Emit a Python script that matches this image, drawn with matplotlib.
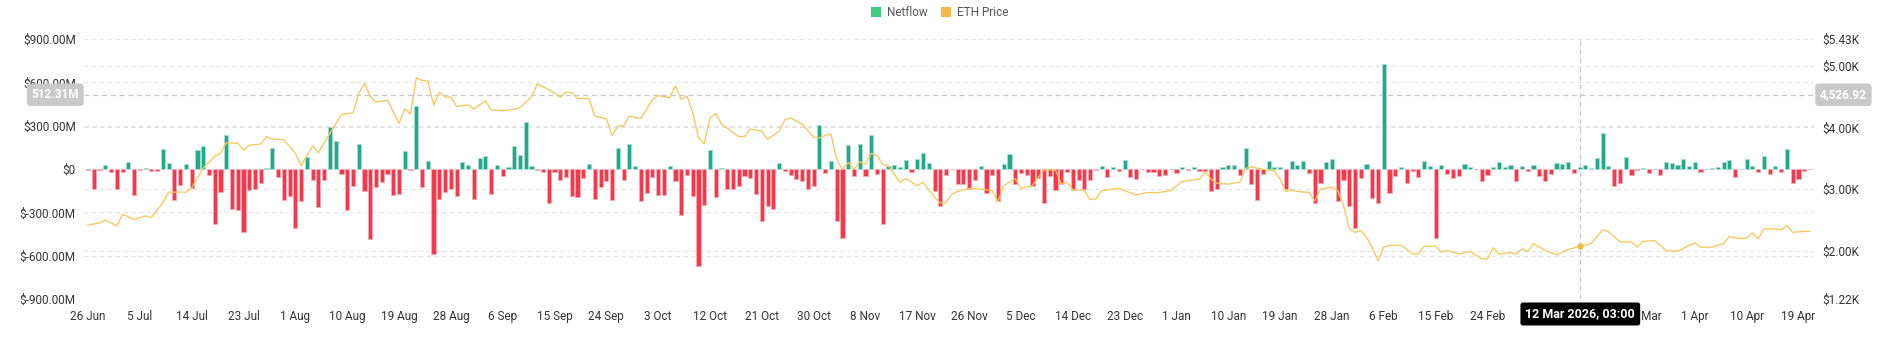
import pandas as pd
import matplotlib.pyplot as plt
from matplotlib.patches import Rectangle

plt.rcParams['font.family'] = ['Roboto', 'DejaVu Sans']

# daily netflow in $M, starting 26 Jun 2025
start = pd.Timestamp("2025-06-26")
netflow_m = [
    -10, -140, -5, 25, -18, -136, -20, 48, -180, -8, 10, -15, -15, 140, 40, -217, -110, 32, -134, 134,
    160, -42, -381, -162, 233, -275, -284, -437, -146, -136, -97, 5, 143, -55, -217, -185, -407, -219, 83, -79,
    -266, -74, 289, 192, -37, -282, -116, 176, -155, -485, -122, -88, -35, -178, -171, 125, -9, 439, -122, 53,
    -587, -208, -159, -136, -187, 46, 28, -208, 76, 90, -175, 25, -48, 14, 157,
    99, 323, 18, -7, -18, -235, -18, -76, -53, -185, -194, -60, 32, -210, -122, -81, -217, 143, -74, 173,
    18, -219, -164, -53, -180, -180, 21, -81, -316, -39, -185, -674, -249, 129, -196, 5, -139, -141, -118, -46,
    -60, -171, -360, -259, -279, 42, -12, -39, -67, -81, -141, -116, 302, -25, 55, -358, -476, 166, -46, 173,
    -46, 235, -32, -383, 21, 25, 12, 62, -18, 67, 111, 39, -150, -256,
    -39, -3, -104, -102, -139, -74, 21, -169, -42, -224, 32, 102, -104, -28, -39, -116, -65, -236, -51, -143,
    -106, -18, -148, -74, -139, -76, -7, 23, -58, 14, -12, 62, -58, -69, -3, -21, -21, -46, -39, -3,
    -25, 14, -9, 14, -12, -14, -150, -136, 12, 25, 28, -39, 146, -104, -213, -32, 53, 16, 14, -139,
    55, 25, 53, -30, -233, -99, 48, 72, -219, -76, -254, -411, -65, 35, -199,
    -238, 727, -169, -51, 14, -99, -16, -55, 53, 21, -476, 25, -32, -60, -48, 32, 14, -3, -81, -42,
    14, 46, 14, 28, -83, 21, -12, 30, -51, -81, -32, 44, 32, 48, -25, 12, 25, 7, 76, 252,
    21, -120, -99, 81, -44, -5, 7, -25, -3, -44, 48, 39, 28, 72, 21, 46, -21, 3, 7, 16,
    51, 62, -58, 3, 69, 21, -18, 90, -37, 23, -21, 136, -95, -69, -12, 3,
]

# ETH price samples (day offset from start, USD)
price_day = [
    0, 2, 3, 5, 6, 8, 10, 11, 13, 14, 17, 18, 20, 22, 23, 24, 26, 27, 28, 30,
    31, 32, 34, 36, 37, 39, 40, 42, 44, 46, 47, 48, 49, 50, 52, 54, 55, 56, 57, 58,
    59, 60, 61, 62, 63, 64, 66, 67, 69, 70, 72, 73, 74,
    75, 77, 78, 80, 82, 83, 84, 85, 87, 88, 90, 91, 92, 93, 94, 96, 98, 99, 101, 102,
    103, 104, 105, 106, 107, 108, 109, 110, 113, 114, 115, 117, 118, 120, 121, 122, 124, 126, 127, 128,
    129, 130, 131, 132, 133, 134, 135, 136, 137, 138, 139, 141, 142, 144, 145, 147, 148, 149,
    150, 151, 153, 155, 157, 158, 159, 161, 162, 164, 165, 166, 168, 169, 170, 171, 173, 174, 175, 176,
    179, 182, 184, 186, 188, 190, 193, 194, 195, 196, 198, 200, 201, 202, 204, 206, 207, 208, 209, 210,
    212, 213, 214, 216, 217, 218, 219, 220, 221, 222, 223,
    224, 225, 226, 228, 230, 231, 232, 234, 235, 236, 238, 240, 242, 243, 244, 245, 247, 248, 249, 250,
    251, 253, 254, 255, 257, 259, 261, 263, 264, 266, 268, 269, 270, 272, 274, 276, 279, 280, 282, 284,
    285, 287, 288, 289, 290, 291, 293, 294, 295, 296, 298, 299,
]
price_usd = [
    2417, 2450, 2500, 2405, 2590, 2510, 2565, 2540, 2780, 2950, 2950, 3020, 3340, 3530, 3580, 3750, 3740, 3630, 3710, 3730,
    3850, 3810, 3800, 3580, 3380, 3700, 3590, 3900, 4210, 4235, 4545, 4715, 4500, 4410, 4440, 4065, 4300, 4215, 4800, 4760,
    4750, 4360, 4570, 4490, 4490, 4340, 4360, 4295, 4430, 4280, 4270, 4280, 4290,
    4320, 4490, 4700, 4610, 4490, 4570, 4560, 4470, 4460, 4180, 4140, 3870, 4020, 4020, 4180, 4140, 4450, 4515, 4480, 4670,
    4450, 4505, 4235, 3830, 3740, 4155, 4225, 4050, 3850, 3850, 3970, 3940, 3805, 3940, 4120, 4155, 4050, 3840, 3830, 3870,
    3890, 3480, 3320, 3430, 3320, 3440, 3400, 3580, 3540, 3400, 3375, 3110, 3170, 3055, 3110, 2865, 2775, 2775,
    2920, 2960, 3010, 3000, 2975, 2800, 3055, 3170, 3010, 3055, 3190, 3310, 3310, 3080, 3110, 2990, 2975, 2830, 2840, 2975,
    3010, 2905, 2945, 2945, 2975, 3125, 3160, 3280, 3160, 3095, 3080, 3110, 3335, 3360, 3320, 3295, 3160, 2960, 2985, 2960,
    2945, 2810, 3000, 3030, 2975, 2730, 2365, 2300, 2330, 2220, 2050,
    1840, 2060, 2085, 2095, 1950, 1950, 2075, 2075, 1980, 2005, 1950, 1990, 1870, 1870, 2050, 1950, 1970, 1950, 2030, 1990,
    2115, 2005, 1970, 1935, 2020, 2075, 2115, 2340, 2310, 2150, 2140, 2060, 2155, 2165, 2005, 1995, 2130, 2060, 2060, 2115,
    2230, 2195, 2205, 2290, 2195, 2355, 2355, 2340, 2410, 2300, 2315, 2315,
]

left_ticks = [-900, -600, -300, 0, 300, 600, 900]
left_labels = ["$-900.00M", "$-600.00M", "$-300.00M", "$0", "$300.00M", "$600.00M", "$900.00M"]
right_ticks = [1220, 2000, 3000, 4000, 5000, 5430]
right_labels = ["$1.22K", "$2.00K", "$3.00K", "$4.00K", "$5.00K", "$5.43K"]

cross_day = 259.125
cross_flow = 512.31
cross_price = 4526.92
cross_eth = 2075
cross_text = "12 Mar 2026, 03:00"
# date ticks that sit fully under the crosshair date box
hidden_ticks = [252, 261]

GREEN, GREEN_EDGE = '#22a98b', '#a6ddcd'
RED, RED_EDGE = '#f5394c', '#f6aab4'
LINE = '#f7c75c'
GRID = '#e4e4e4'
TXT = '#333333'

W, H = 1880, 350
fig = plt.figure(figsize=(W / 100, H / 100), dpi=100)
ax = fig.add_axes([84 / W, 1 - 299 / H, 1730 / W, 260 / H])
ax2 = ax.twinx()

days = list(range(len(netflow_m)))
ax.set_xlim(-0.7, len(days) - 0.3)
ax.set_ylim(left_ticks[0], left_ticks[-1])
ax2.set_ylim(right_ticks[0], right_ticks[-1])


def to_left(p):
    lo, hi = right_ticks[0], right_ticks[-1]
    return left_ticks[0] + (p - lo) / (hi - lo) * (left_ticks[-1] - left_ticks[0])


# grid lines for both axes
for t in left_ticks:
    if t != 0:
        ax.axhline(t, color=GRID, lw=0.8, ls=(0, (4, 3)), zorder=0)
for p in right_ticks[1:-1]:
    ax.axhline(to_left(p), color=GRID, lw=0.8, ls=(0, (4, 3)), zorder=0)

colors = [GREEN if v >= 0 else RED for v in netflow_m]
edges = [GREEN_EDGE if v >= 0 else RED_EDGE for v in netflow_m]
ax.bar(days, netflow_m, width=0.72, color=colors, edgecolor=edges, linewidth=0.7, zorder=2)

ax.axhline(cross_flow, color='#c6c6c6', lw=0.9, ls=(0, (4, 3)), zorder=1)
ax.axvline(cross_day, color='#c6c6c6', lw=0.9, ls=(0, (4, 3)), zorder=1)

ax2.plot(price_day, price_usd, color=LINE, lw=0.95, zorder=3)
ax2.plot([cross_day], [cross_eth], 'o', ms=3.5, color='#f2b845', zorder=4)

# x ticks every 9 days
tick_days = [d for d in range(0, len(days), 9) if d not in hidden_ticks]
tick_labels = [f"{d.day} {d.strftime('%b')}" for d in (start + pd.to_timedelta(tick_days, unit='D'))]
ax.set_xticks(tick_days)
ax.set_xticklabels(tick_labels)
ax.set_yticks(left_ticks)
ax.set_yticklabels(left_labels)
ax2.set_yticks(right_ticks)
ax2.set_yticklabels(right_labels)

ax.tick_params(axis='x', length=0, pad=8, labelsize=8.5, labelcolor=TXT)
ax.tick_params(axis='y', length=0, pad=6, labelsize=8.5, labelcolor=TXT)
ax2.tick_params(axis='y', length=0, pad=6, labelsize=8.5, labelcolor=TXT)
for a in (ax, ax2):
    for s in a.spines.values():
        s.set_visible(False)

# crosshair labels
ax2.annotate("512.31M", xy=(0, cross_price), xycoords=('axes fraction', 'data'),
             xytext=(-5, 0), textcoords='offset pixels', ha='right', va='center',
             color='white', fontsize=8.5, fontweight='bold', annotation_clip=False, zorder=10,
             bbox=dict(boxstyle='round,pad=0.4,rounding_size=0.3', fc='#c9c9c9', ec='none'))
ax2.annotate("4,526.92", xy=(1, cross_price), xycoords=('axes fraction', 'data'),
             xytext=(6, 0), textcoords='offset pixels', ha='left', va='center',
             color='white', fontsize=8.5, fontweight='bold', annotation_clip=False, zorder=10,
             bbox=dict(boxstyle='round,pad=0.4,rounding_size=0.3', fc='#c9c9c9', ec='none'))
ax2.annotate(cross_text, xy=(cross_day, 0), xycoords=('data', 'axes fraction'),
             xytext=(0, -15), textcoords='offset pixels', ha='center', va='center',
             color='white', fontsize=9, fontweight='bold', annotation_clip=False, zorder=10,
             bbox=dict(boxstyle='round,pad=0.4,rounding_size=0.2', fc='black', ec='none'))

# legend
fig.patches.append(Rectangle((871 / W, 1 - 17 / H), 10 / W, 10 / H, transform=fig.transFigure,
                             fc='#3dcc7e', ec='none'))
fig.text(887 / W, 1 - 12 / H, "Netflow", ha='left', va='center', fontsize=8.5, color='#555555')
fig.patches.append(Rectangle((941 / W, 1 - 17 / H), 10 / W, 10 / H, transform=fig.transFigure,
                             fc='#f2b84b', ec='none'))
fig.text(957 / W, 1 - 12 / H, "ETH Price", ha='left', va='center', fontsize=8.5, color='#555555')

fig.savefig("out.png", dpi=100)
